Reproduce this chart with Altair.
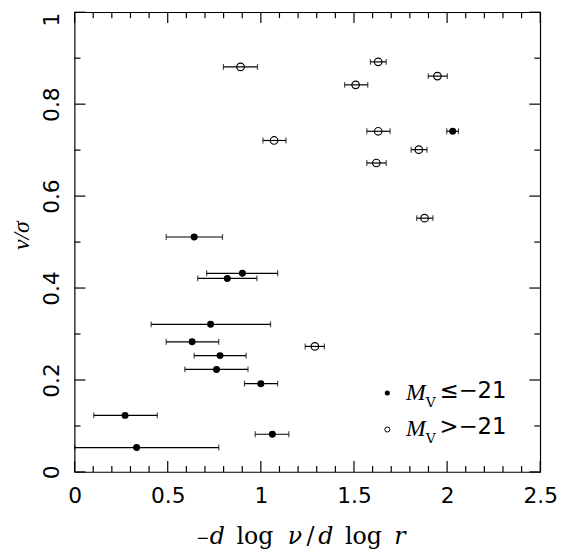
import altair as alt
import pandas as pd

# ---- data ----
# M_V <= -21 (filled)
f_x = [0.642, 0.901, 0.820, 0.730, 0.631, 0.781, 0.762, 1.000, 0.271, 1.062, 0.333, 2.030]
f_y = [0.511, 0.432, 0.421, 0.321, 0.283, 0.253, 0.223, 0.192, 0.123, 0.082, 0.053, 0.741]
f_lo = [0.492, 0.709, 0.661, 0.411, 0.492, 0.642, 0.592, 0.912, 0.103, 0.970, 0.000, 1.998]
f_hi = [0.794, 1.090, 0.979, 1.052, 0.774, 0.921, 0.931, 1.090, 0.444, 1.150, 0.774, 2.061]

# M_V > -21 (open)
o_x = [0.891, 1.630, 1.948, 1.509, 1.630, 1.071, 1.848, 1.620, 1.879, 1.290]
o_y = [0.881, 0.892, 0.861, 0.842, 0.741, 0.721, 0.701, 0.672, 0.552, 0.273]
o_lo = [0.799, 1.588, 1.899, 1.450, 1.569, 1.011, 1.807, 1.569, 1.837, 1.238]
o_hi = [0.982, 1.673, 2.001, 1.574, 1.694, 1.135, 1.892, 1.673, 1.924, 1.341]

x_labels = [0, 0.5, 1, 1.5, 2, 2.5]
y_labels = [0, 0.2, 0.4, 0.6, 0.8, 1]
x_minor = [0.1, 0.2, 0.3, 0.4, 0.6, 0.7, 0.8, 0.9, 1.1, 1.2, 1.3, 1.4,
           1.6, 1.7, 1.8, 1.9, 2.1, 2.2, 2.3, 2.4]
y_minor = [0.1, 0.3, 0.5, 0.7, 0.9]
legend_text = ["\u2264\u221221", ">\u221221"]

# x-axis title pieces: (text, italic?, size)
xtitle_pieces = [("\u2212", False, 16), ("d", True, 24), ("log", False, 24), ("\u03bd", True, 24),
                 ("/", False, 24), ("d", True, 24), ("log", False, 24), ("r", True, 24)]
xtitle_pos = [123, 137, 164, 216, 235, 247, 274, 324]

W, H = 472, 466
MAJ, MIN = 11, 6
LW = 1.2

fdf = pd.DataFrame({"x": f_x, "y": f_y, "lo": f_lo, "hi": f_hi})
odf = pd.DataFrame({"x": o_x, "y": o_y, "lo": o_lo, "hi": o_hi})
edf = pd.concat([fdf, odf], ignore_index=True)

xs = alt.Scale(domain=[0, 2.5], nice=False, zero=False)
ys = alt.Scale(domain=[0, 1], nice=False, zero=False)

xax = alt.Axis(
    values=x_labels, format="~g", ticks=False, tickSize=0, domain=False, grid=False,
    labelFont="DejaVu Sans", labelFontSize=22, labelColor="black",
    labelBaseline="alphabetic", labelPadding=31, labelFlush=False,
    title="",
)
yax = alt.Axis(
    values=y_labels, format="~g", ticks=False, tickSize=0, domain=False, grid=False,
    labelFont="DejaVu Sans", labelFontSize=22, labelColor="black",
    labelAngle=270,
    labelAlign=alt.ConditionalAxisLabelAlign(
        condition={"test": "datum.value == 1", "value": "right"}, value="center"
    ),
    labelBaseline="alphabetic", labelPadding=16, labelFlush=False,
    title="v/\u03c3",
    titleFont="Liberation Serif", titleFontStyle="italic", titleFontWeight="normal",
    titleFontSize=24, titleColor="black", titleAngle=270,
    titleBaseline="alphabetic", titleAlign="center", titleX=-47, titleY=226,
)

X = lambda f: alt.X(f, type="quantitative", scale=xs, axis=xax)
Y = lambda f: alt.Y(f, type="quantitative", scale=ys, axis=yax)

bars = alt.Chart(edf).mark_rule(color="black", strokeWidth=LW).encode(
    x=X("lo"), x2="hi", y=Y("y"))
cap_lo = alt.Chart(edf).mark_tick(color="black", orient="vertical", size=6, thickness=LW).encode(
    x=X("lo"), y=Y("y"))
cap_hi = alt.Chart(edf).mark_tick(color="black", orient="vertical", size=6, thickness=LW).encode(
    x=X("hi"), y=Y("y"))

filled = alt.Chart(fdf).mark_point(shape="circle", filled=True, color="black", size=50, opacity=1).encode(
    x=X("x"), y=Y("y"))
opened = alt.Chart(odf).mark_point(shape="circle", filled=False, color="black", size=58,
                                   strokeWidth=LW, opacity=1).encode(x=X("x"), y=Y("y"))


def xticks(vals, L):
    d = pd.DataFrame({"v": vals})
    b = alt.Chart(d).mark_rule(color="black", strokeWidth=LW).encode(
        x=X("v"), y=alt.value(H), y2=alt.value(H - L))
    t = alt.Chart(d).mark_rule(color="black", strokeWidth=LW).encode(
        x=X("v"), y=alt.value(0), y2=alt.value(L))
    return [b, t]


def yticks(vals, L):
    d = pd.DataFrame({"v": vals})
    l = alt.Chart(d).mark_rule(color="black", strokeWidth=LW).encode(
        y=Y("v"), x=alt.value(0), x2=alt.value(L))
    r = alt.Chart(d).mark_rule(color="black", strokeWidth=LW).encode(
        y=Y("v"), x=alt.value(W), x2=alt.value(W - L))
    return [l, r]


tick_layers = xticks(x_labels, MAJ) + xticks(x_minor, MIN) + yticks(y_labels, MAJ) + yticks(y_minor, MIN)

# ---- x-axis title as mixed italic / upright pieces ----
title_layers = []
for (txt, ital, fs), px in zip(xtitle_pieces, xtitle_pos):
    d = pd.DataFrame({"t": [txt]})
    kw = dict(align="left", baseline="alphabetic", font="DejaVu Serif", fontSize=fs, color="black")
    if ital:
        kw["fontStyle"] = "italic"
    title_layers.append(alt.Chart(d).mark_text(**kw).encode(
        text="t:N", x=alt.value(px), y=alt.value(539 if fs == 24 else 538)))

# ---- legend (annotation) ----
legend_layers = []
for i, (lab, fill) in enumerate(zip(legend_text, [True, False])):
    yy = 386 + 37 * i
    d = pd.DataFrame({"lab": [lab], "m": ["M"], "s": ["V"]})
    legend_layers.append(alt.Chart(d).mark_point(shape="circle", filled=fill, color="black",
                                                 size=26, strokeWidth=1, opacity=1).encode(
        x=alt.value(317), y=alt.value(yy)))
    legend_layers.append(alt.Chart(d).mark_text(align="left", baseline="alphabetic",
                                                font="Liberation Serif", fontStyle="italic",
                                                fontSize=24, color="black").encode(
        text="m:N", x=alt.value(336), y=alt.value(yy + 7)))
    legend_layers.append(alt.Chart(d).mark_text(align="left", baseline="alphabetic",
                                                font="DejaVu Serif", fontSize=14,
                                                color="black").encode(
        text="s:N", x=alt.value(356), y=alt.value(yy + 14)))
    legend_layers.append(alt.Chart(d).mark_text(align="left", baseline="alphabetic",
                                                font="DejaVu Sans", fontSize=23,
                                                color="black").encode(
        text="lab:N", x=alt.value(370), y=alt.value(yy + 5)))

chart = alt.layer(bars, cap_lo, cap_hi, filled, opened, *tick_layers,
                  *title_layers, *legend_layers).properties(
    width=W, height=H,
    autosize=alt.AutoSizeParams(type="none"),
    padding={"left": 67.5, "top": 0.5, "right": 17, "bottom": 85},
).configure_view(stroke="black", strokeWidth=LW)

chart.save("out.html", embed_options={"renderer": "svg", "actions": False})
